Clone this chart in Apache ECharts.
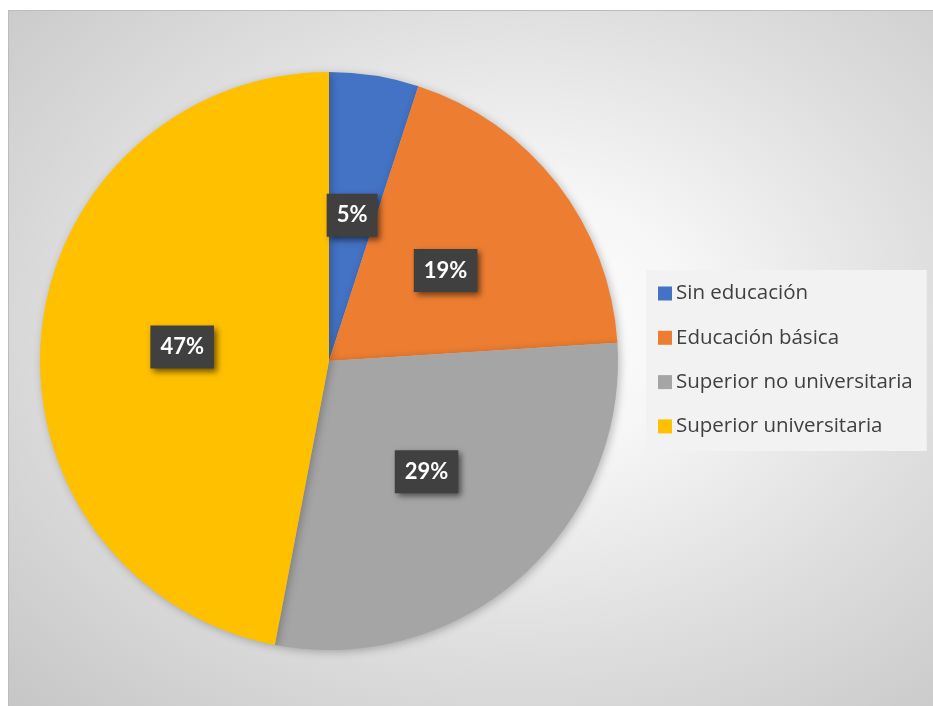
<!DOCTYPE html>
<html>
<head>
<meta charset="utf-8">
<script src="https://cdn.jsdelivr.net/npm/echarts@6/dist/echarts.min.js"></script>
<style>
html,body{margin:0;padding:0;background:#ffffff;}
#frame{position:absolute;left:8px;top:10px;width:924px;height:696px;border-top:1px solid #bcbcbc;border-left:1px solid #bcbcbc;
background:radial-gradient(ellipse farthest-corner at 55% 45%, #ffffff 0%, #f6f6f6 25%, #dedede 60%, #c6c6c6 100%);}
#chart{width:924px;height:696px;}
</style>
</head>
<body>
<div id="frame"><div id="chart"></div></div>
<script>
const categories = ['Sin educación', 'Educación básica', 'Superior no universitaria', 'Superior universitaria'];
const values = [5, 19, 29, 47];
const colors = ['#4472C4', '#ED7D31', '#A5A5A5', '#FFC000'];

const chart = echarts.init(document.getElementById('chart'), null, {renderer: 'canvas'});
chart.setOption({
  backgroundColor: 'transparent',
  animation: false,
  color: colors,
  legend: {
    orient: 'vertical',
    left: 637,
    top: 259,
    backgroundColor: '#f2f2f2',
    padding: [13, 14, 14, 12],
    itemWidth: 14,
    itemHeight: 14,
    itemGap: 23.3,
    icon: 'rect',
    data: categories,
    textStyle: {fontFamily: 'Open Sans', fontSize: 20.5, color: '#404040', lineHeight: 20, padding: [0, 0, 0, -1]}
  },
  series: [{
    type: 'pie',
    center: [320, 350],
    radius: [0, 289],
    startAngle: 90,
    clockwise: true,
    avoidLabelOverlap: false,
    itemStyle: {borderWidth: 0, shadowBlur: 8, shadowColor: 'rgba(0,0,0,0.25)', shadowOffsetX: 2, shadowOffsetY: 2},
    emphasis: {disabled: true},
    label: {
      show: true,
      position: 'inside',
      formatter: '{c}%',
      fontFamily: 'Lato',
      fontWeight: 'bold',
      fontSize: 22,
      color: '#ffffff',
      backgroundColor: '#404040',
      padding: [11, 10, 10, 10],
      shadowBlur: 6,
      shadowColor: 'rgba(0,0,0,0.55)',
      shadowOffsetX: 3,
      shadowOffsetY: 3
    },
    labelLine: {show: false},
    data: categories.map((c, i) => ({name: c, value: values[i]}))
  }]
});
</script>
</body>
</html>
